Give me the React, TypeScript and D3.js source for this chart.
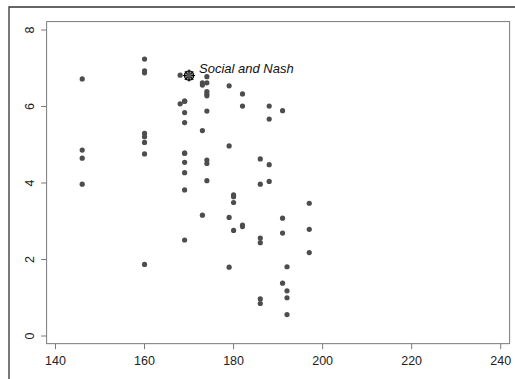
import React from "react";
import * as d3 from "d3";

const W = 515;
const H = 379;

// Observations: x value and y value
const xValues = [
  146, 146, 146, 146,
  160, 160, 160, 160, 160, 160, 160, 160,
  168, 168,
  169, 169, 169, 169, 169, 169, 169, 169, 169, 169,
  173, 173, 173, 173,
  174, 174, 174, 174, 174, 174, 174, 174, 174,
  179, 179, 179, 179,
  180, 180, 180, 180,
  182, 182, 182, 182,
  186, 186, 186, 186, 186, 186,
  188, 188, 188, 188,
  191, 191, 191, 191,
  192, 192, 192, 192,
  197, 197, 197,
];
const yValues = [
  6.72, 4.86, 4.65, 3.97,
  7.24, 6.93, 6.88, 5.30, 5.21, 5.06, 4.76, 1.87,
  6.82, 6.07,
  6.14, 5.84, 5.58, 4.78, 4.54, 4.27, 3.82, 2.51, 6.14, 4.78,
  6.62, 6.56, 5.37, 3.16,
  6.78, 6.62, 6.39, 6.33, 6.28, 5.88, 4.60, 4.51, 4.06,
  6.54, 4.97, 3.10, 1.80,
  3.69, 3.64, 3.49, 2.76,
  6.33, 6.01, 2.90, 2.86,
  4.63, 3.97, 2.56, 2.44, 0.97, 0.85,
  6.01, 5.67, 4.48, 4.04,
  5.89, 3.08, 2.69, 1.38,
  1.81, 1.18, 1.00, 0.56,
  3.47, 2.79, 2.18,
];

// Highlighted point
const highlightX = 170;
const highlightY = 6.81;
const highlightLabel = "Social and Nash";

const xTicks = [140, 160, 180, 200, 220, 240];
const yTicks = [0, 2, 4, 6, 8];

export default function App() {
  const x = d3.scaleLinear().domain([140, 240]).range([55.5, 500.7]);
  const y = d3.scaleLinear().domain([0, 8]).range([336, 30]);

  const boxLeft = x(138);
  const boxRight = x(242);
  const boxTop = y(8.22);
  const boxBottom = y(-0.2);

  const font = "'Liberation Sans', Arial, sans-serif";
  const pts = xValues.map((v, i) => [v, yValues[i]] as const);

  const hx = x(highlightX);
  const hy = y(highlightY);
  const star = d3.range(8).map((k) => (k * Math.PI) / 4);

  return (
    <svg
      width={W}
      height={H}
      style={{ position: "absolute", left: 0, top: 0, background: "#fff" }}
    >
      {/* outer frame */}
      <path
        d={`M9,${H + 2} L9,7 L${W + 2},7`}
        fill="none"
        stroke="#333"
        strokeWidth={1.3}
      />
      {/* plot box */}
      <rect
        x={boxLeft}
        y={boxTop}
        width={boxRight - boxLeft}
        height={boxBottom - boxTop}
        fill="none"
        stroke="#7a7a7a"
        strokeWidth={1}
      />
      {/* x axis */}
      {xTicks.map((t) => (
        <g key={`x${t}`}>
          <line
            x1={x(t)}
            x2={x(t)}
            y1={boxBottom}
            y2={boxBottom + 5.5}
            stroke="#7a7a7a"
          />
          <text
            x={x(t)}
            y={boxBottom + 21}
            textAnchor="middle"
            fontFamily={font}
            fontSize={12.5}
            fill="#222"
          >
            {t}
          </text>
        </g>
      ))}
      {/* y axis */}
      {yTicks.map((t) => (
        <g key={`y${t}`}>
          <line
            x1={boxLeft - 5.5}
            x2={boxLeft}
            y1={y(t)}
            y2={y(t)}
            stroke="#7a7a7a"
          />
          <text
            transform={`translate(${boxLeft - 12.5},${y(t)}) rotate(-90)`}
            textAnchor="middle"
            fontFamily={font}
            fontSize={12.5}
            fill="#222"
          >
            {t}
          </text>
        </g>
      ))}
      {/* observations */}
      {pts.map(([a, b], i) => (
        <circle key={i} cx={x(a)} cy={y(b)} r={2.6} fill="#4d4d4d" />
      ))}
      {/* highlighted observation */}
      <g>
        <circle cx={hx} cy={hy} r={4.6} fill="#9a9a9a" stroke="#000" strokeWidth={1.2} />
        {star.map((a, i) => (
          <line
            key={i}
            x1={hx}
            y1={hy}
            x2={hx + 6 * Math.cos(a)}
            y2={hy + 6 * Math.sin(a)}
            stroke="#000"
            strokeWidth={1.1}
          />
        ))}
        <circle cx={hx} cy={hy} r={2.4} fill="#555" />
        <text
          x={hx + 10}
          y={hy - 2.5}
          fontFamily={font}
          fontStyle="italic"
          fontSize={13}
          fill="#111"
        >
          {highlightLabel}
        </text>
      </g>
    </svg>
  );
}
